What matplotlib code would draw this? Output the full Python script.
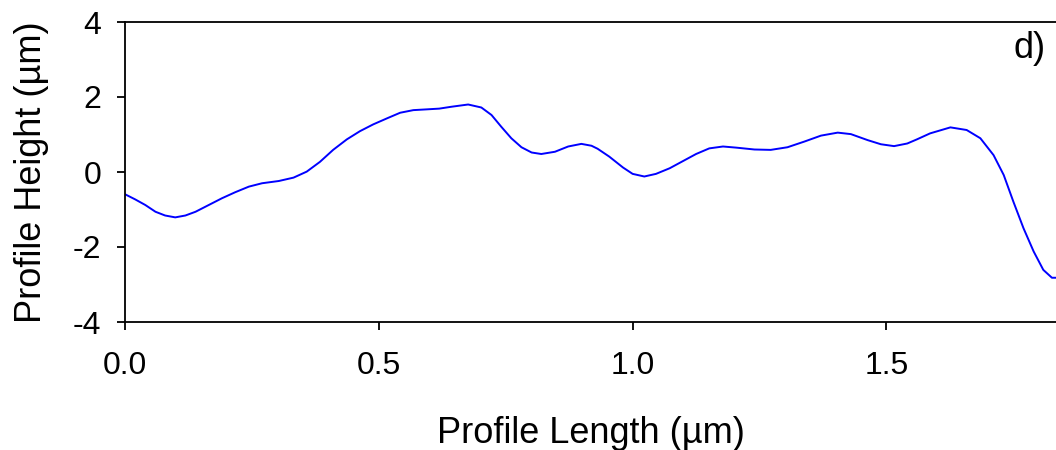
import numpy as np
import matplotlib.pyplot as plt

plt.rcParams['font.family'] = ['Liberation Sans', 'DejaVu Sans']
plt.rcParams['axes.unicode_minus'] = False

# profile (µm)
length = [0.001, 0.020, 0.040, 0.060, 0.079, 0.099, 0.119, 0.139, 0.165, 0.191,
          0.217, 0.244, 0.270, 0.303, 0.332, 0.358, 0.384, 0.410, 0.437, 0.463,
          0.489, 0.516, 0.542, 0.568, 0.594, 0.619, 0.643, 0.676, 0.702, 0.722,
          0.741, 0.761, 0.781, 0.801, 0.820, 0.847, 0.873, 0.899, 0.919, 0.931,
          0.954, 0.981, 1.000, 1.023, 1.046, 1.073, 1.099, 1.125, 1.151, 1.178,
          1.204, 1.240, 1.272, 1.305, 1.338, 1.371, 1.404, 1.430, 1.463, 1.489,
          1.515, 1.541, 1.560, 1.586, 1.626, 1.658, 1.685, 1.711, 1.731, 1.750,
          1.770, 1.790, 1.809, 1.826, 1.834]
height = [-0.60, -0.73, -0.88, -1.06, -1.16, -1.21, -1.16, -1.06, -0.88, -0.70,
          -0.54, -0.39, -0.30, -0.24, -0.15, 0.01, 0.27, 0.59, 0.87, 1.09,
          1.27, 1.43, 1.58, 1.65, 1.67, 1.69, 1.74, 1.80, 1.72, 1.52,
          1.21, 0.90, 0.66, 0.52, 0.48, 0.54, 0.68, 0.75, 0.70, 0.62,
          0.41, 0.12, -0.05, -0.12, -0.05, 0.10, 0.29, 0.48, 0.63, 0.68,
          0.65, 0.60, 0.59, 0.66, 0.81, 0.97, 1.05, 1.01, 0.85, 0.74,
          0.69, 0.76, 0.87, 1.03, 1.19, 1.12, 0.90, 0.45, -0.08, -0.79,
          -1.50, -2.12, -2.61, -2.82, -2.82]

xticks = [0.0, 0.5, 1.0, 1.5]
yticks = [-4, -2, 0, 2, 4]

fig = plt.figure(figsize=(10.56, 4.5), dpi=100)
ax = fig.add_axes([125/1056, 1 - 322/450, 1 - 125/1056, 300/450])

ax.plot(length, height, color='#0000ff', lw=1.4, solid_joinstyle='round')

ax.set_xlim(0, 1.834)
ax.set_ylim(-4, 4)
ax.set_xticks(xticks)
ax.set_xticklabels(['%.1f' % v for v in xticks])
ax.set_yticks(yticks)

ax.spines['right'].set_visible(False)
for s in ['left', 'top', 'bottom']:
    ax.spines[s].set_linewidth(1.3)
ax.tick_params(direction='out', length=6, width=1.3, labelsize=23, pad=11)
ax.tick_params(axis='x', pad=15)

ax.set_xlabel('Profile Length (µm)', fontsize=26, labelpad=25)
ax.set_ylabel('Profile Height (µm)', fontsize=26, labelpad=17)

ax.text(1.813, 3.3, 'd)', fontsize=26, ha='right', va='center')

fig.savefig('out.png', dpi=100)
